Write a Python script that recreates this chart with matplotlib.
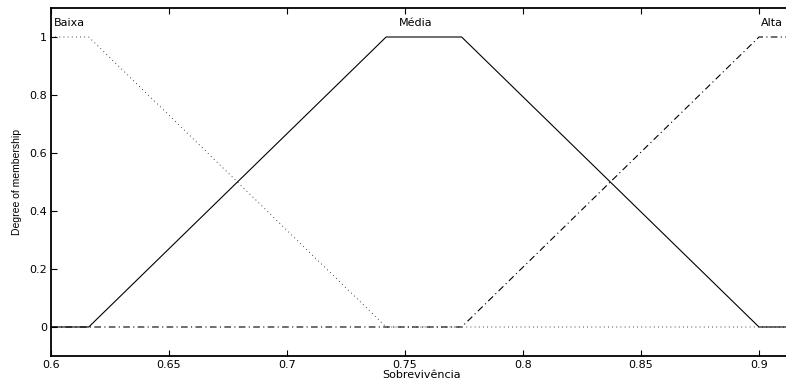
import matplotlib
matplotlib.use("Agg")
import matplotlib.pyplot as plt

# ── Membership functions ─────────────────────────────────────────────────────
x_range = [0.6, 0.914]

baixa_x = [0.6, 0.616, 0.742, 0.914]
baixa_y = [1, 1, 0, 0]

media_x = [0.6, 0.616, 0.742, 0.774, 0.9, 0.914]
media_y = [0, 0, 1, 1, 0, 0]

alta_x = [0.6, 0.774, 0.9, 0.914]
alta_y = [0, 0, 1, 1]

labels = ["Baixa", "Média", "Alta"]
label_x = [0.608, 0.7545, 0.9056]

x_ticks = [0.6, 0.65, 0.7, 0.75, 0.8, 0.85, 0.9]
y_ticks = [0, 0.2, 0.4, 0.6, 0.8, 1]

FONT = "DejaVu Sans"
px_per_unit = 2360  # pixels per x data unit in the reference

fig = plt.figure(figsize=(7.86, 3.85), dpi=100)
right_px = 51 + (x_range[1] - x_range[0]) * px_per_unit
ax = fig.add_axes([51 / 786, 1 - 356 / 385, (right_px - 51) / 786, (356 - 8) / 385])

ax.plot(baixa_x, baixa_y, color="black", lw=0.6, linestyle=(0, (1, 4)))
ax.plot(media_x, media_y, color="black", lw=0.8, linestyle="-")
ax.plot(alta_x, alta_y, color="black", lw=0.8, linestyle=(0, (6, 3, 1, 3)))

for lab, lx in zip(labels, label_x):
    ax.text(lx, 1.05, lab, ha="center", va="center", fontsize=8,
            family=FONT, color="black")

ax.set_xlim(x_range[0], x_range[1])
ax.set_ylim(-0.1, 1.1)
ax.set_xticks(x_ticks)
ax.set_xticklabels([f"{t:g}" for t in x_ticks], family=FONT, fontsize=8)
ax.set_yticks(y_ticks)
ax.set_yticklabels([f"{t:g}" for t in y_ticks], family=FONT, fontsize=8)
ax.tick_params(direction="in", length=4, width=0.8, top=True, right=True, pad=3)

for s in ax.spines.values():
    s.set_linewidth(1.3)

ax.set_xlabel("Sobrevivência", family=FONT, fontsize=8, labelpad=0)
ax.set_ylabel("Degree of membership", family="Liberation Sans", fontsize=7.5,
              labelpad=5)

fig.savefig("out.png", dpi=100)
plt.close(fig)
